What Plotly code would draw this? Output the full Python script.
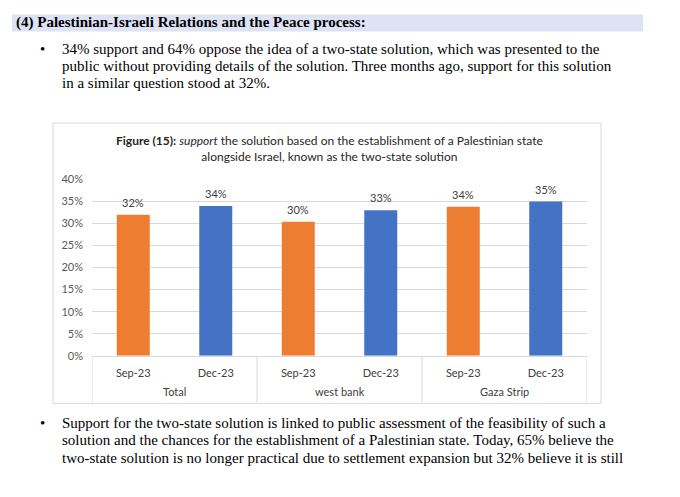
import plotly.graph_objects as go

# page offset: the browser body adds an 8px margin around the figure
OFF = 8
W, H = 680 - OFF, 497 - OFF

groups = ["Total", "west bank", "Gaza Strip"]
periods = ["Sep-23", "Dec-23", "Sep-23", "Dec-23", "Sep-23", "Dec-23"]
categories = ["Total Sep-23", "Total Dec-23", "west bank Sep-23", "west bank Dec-23",
              "Gaza Strip Sep-23", "Gaza Strip Dec-23"]
support = [0.32, 0.34, 0.304, 0.33, 0.338, 0.35]
bar_colors = ["#ED7D31", "#4472C4", "#ED7D31", "#4472C4", "#ED7D31", "#4472C4"]

header = "(4) Palestinian-Israeli Relations and the Peace process:"
para1 = [
    "34% support and 64% oppose the idea of a two-state solution, which was presented to the",
    "public without providing details of the solution. Three months ago, support for this solution",
    "in a similar question stood at 32%.",
]
para2 = [
    "Support for the two-state solution is linked to public assessment of the feasibility of such a",
    "solution and the chances for the establishment of a Palestinian state. Today, 65% believe the",
    "two-state solution is no longer practical due to settlement expansion but 32% believe it is still",
]
chart_title = ("<b>Figure (15):</b> <i>support</i> the solution based on the establishment of a Palestinian state"
               "<br>alongside Israel, known as the two-state solution")


def px(x):
    return (x - OFF) / W


def py(y):
    return 1 - (y - OFF) / H


fig = go.Figure()
fig.add_trace(go.Bar(
    x=categories,
    y=support,
    marker=dict(color=bar_colors, line=dict(width=0)),
    width=0.4,
    showlegend=False,
))

serif = dict(family="Liberation Serif", size=15, color="#000000")
lato_ticks = dict(family="Lato", size=11, color="#404040")
anns = []
anns.append(dict(x=px(14), y=py(16), xref="paper", yref="paper", xanchor="left", yanchor="middle",
                 text="<b>" + header + "</b>", showarrow=False, font=serif))
for i, line in enumerate(para1):
    anns.append(dict(x=px(60), y=py(43 + 17.5 * i), xref="paper", yref="paper", xanchor="left",
                     yanchor="middle", text=line, showarrow=False, font=serif))
for i, line in enumerate(para2):
    anns.append(dict(x=px(60), y=py(427 + 18 * i), xref="paper", yref="paper", xanchor="left",
                     yanchor="middle", text=line, showarrow=False, font=serif))
for yy in (43, 427):
    anns.append(dict(x=px(42), y=py(yy), xref="paper", yref="paper", xanchor="center",
                     yanchor="middle", text="•", showarrow=False, font=serif))
anns.append(dict(x=px(329), y=py(145.5), xref="paper", yref="paper", xanchor="center",
                 yanchor="middle", text=chart_title, showarrow=False, align="center",
                 font=dict(family="Lato", size=12, color="#262626")))
# data labels
for c, v in zip(categories, support):
    anns.append(dict(x=c, y=v, xref="x", yref="y", xanchor="center", yanchor="bottom",
                     yshift=4, text=f"{v:.0%}", showarrow=False,
                     font=dict(family="Lato", size=11, color="#404040")))
# group labels
for g_i, g in enumerate(groups):
    anns.append(dict(x=2 * g_i + 0.5, y=py(395), xref="x", yref="paper", xanchor="center",
                     yanchor="middle", text=g, showarrow=False, font=lato_ticks))

shapes = [
    dict(type="rect", xref="paper", yref="paper", x0=px(12), x1=px(643), y0=py(25), y1=py(7.5),
         fillcolor="#dde3f4", line=dict(width=0), layer="below"),
    dict(type="rect", xref="paper", yref="paper", x0=px(53), x1=px(601), y0=py(407), y1=py(119),
         fillcolor="rgba(0,0,0,0)", line=dict(color="#d9d9d9", width=1), layer="below"),
]
for d in (-0.5, 1.5, 3.5, 5.5):
    shapes.append(dict(type="line", xref="x", yref="paper", x0=d, x1=d, y0=py(358), y1=py(406),
                       line=dict(color="#d9d9d9", width=1)))

fig.update_layout(
    width=W, height=H,
    margin=dict(l=0, r=0, t=0, b=0),
    paper_bgcolor="white", plot_bgcolor="white",
    annotations=anns,
    shapes=shapes,
    xaxis=dict(
        domain=[px(92), px(587)],
        type="category",
        range=[-0.5, 5.5],
        tickmode="array",
        tickvals=categories,
        ticktext=periods,
        showgrid=False,
        showline=True, linecolor="#d9d9d9", linewidth=1,
        ticks="",
        ticklabelstandoff=7,
        tickfont=lato_ticks,
    ),
    yaxis=dict(
        domain=[py(358), py(177)],
        range=[0, 0.40],
        dtick=0.05,
        tickformat=".0%",
        showgrid=True, gridcolor="#d9d9d9", gridwidth=1,
        zeroline=False,
        showline=False,
        ticks="",
        ticklabelstandoff=8,
        tickfont=dict(family="Lato", size=11, color="#595959"),
    ),
)

fig.write_html("out.html")
